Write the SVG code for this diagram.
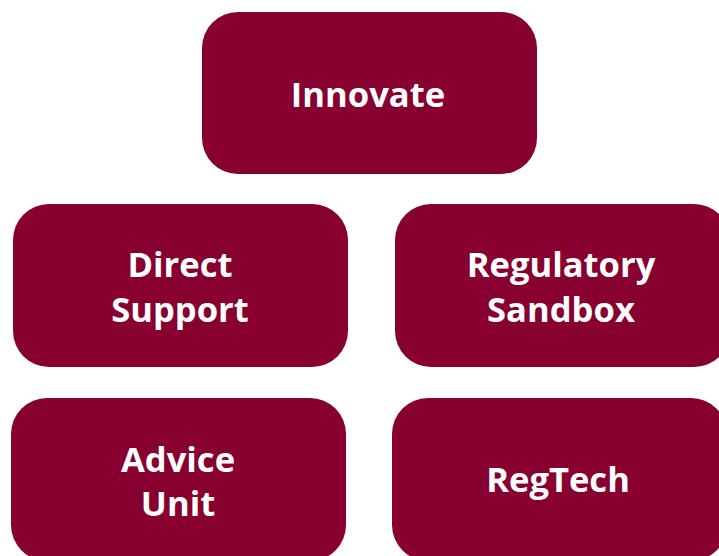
<svg xmlns="http://www.w3.org/2000/svg" width="719" height="556" viewBox="0 0 719 556">
<style>
.box{fill:#870030;}
.lbl{fill:#ffffff;font-family:"Open Sans","Noto Sans","DejaVu Sans",sans-serif;font-weight:bold;font-size:34.6px;text-anchor:middle;}
</style>
<rect width="719" height="556" fill="#ffffff"/>
<g id="connectors"></g>
<g id="innovate">
<rect class="box" x="202" y="12" width="335" height="162" rx="36" ry="36"/>
<text class="lbl" x="368" y="107">Innovate</text>
</g>
<g id="direct-support">
<rect class="box" x="13" y="204" width="335" height="163" rx="36" ry="36"/>
<text class="lbl" x="180" y="277">Direct</text>
<text class="lbl" x="180" y="322">Support</text>
</g>
<g id="regulatory-sandbox">
<rect class="box" x="395" y="204" width="335" height="163" rx="36" ry="36"/>
<text class="lbl" x="561" y="277">Regulatory</text>
<text class="lbl" x="561" y="322">Sandbox</text>
</g>
<g id="advice-unit">
<rect class="box" x="11" y="398" width="335" height="163" rx="36" ry="36"/>
<text class="lbl" x="178" y="472">Advice</text>
<text class="lbl" x="178" y="516">Unit</text>
</g>
<g id="regtech">
<rect class="box" x="392" y="398" width="335" height="163" rx="36" ry="36"/>
<text class="lbl" x="558" y="492">RegTech</text>
</g>
</svg>
